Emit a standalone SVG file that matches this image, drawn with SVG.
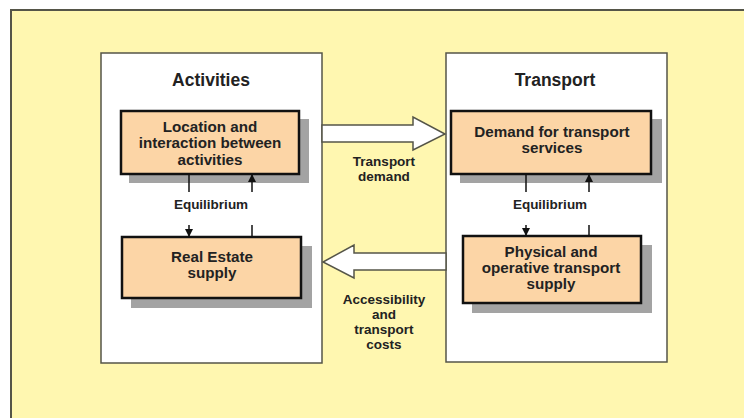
<svg xmlns="http://www.w3.org/2000/svg" width="744" height="418" viewBox="0 0 744 418">
<style>
.panel{fill:#ffffff;stroke:#555548;stroke-width:1.5}
.box{fill:#fcd5a6;stroke:#111;stroke-width:2.5}
.shadow{fill:#a3a3a3}
.t{font-family:"Liberation Sans",Arial,sans-serif;font-weight:bold;fill:#222;text-anchor:middle}
.bt{font-size:15.2px}
.title{font-size:17.5px}
.lbl{font-size:13.5px}
.eq{stroke:#111;stroke-width:1.5;fill:none}
.big{fill:#ffffff;stroke:#555548;stroke-width:1.5}
</style>
<defs>
<marker id="ah" markerWidth="8" markerHeight="8" refX="7" refY="4" orient="auto" markerUnits="userSpaceOnUse">
<path d="M0,0 L8,4 L0,8 z" fill="#111"/>
</marker>
</defs>
<rect width="744" height="418" fill="#ffffff"/>
<rect x="11" y="10" width="745" height="420" fill="#fff7b0" stroke="#555548" stroke-width="2"/>

<g id="activities-panel">
<rect class="panel" x="101" y="53" width="221" height="310"/>
<text class="t title" x="211" y="86">Activities</text>
</g>
<g id="transport-panel">
<rect class="panel" x="446" y="53" width="221" height="309"/>
<text class="t title" x="555" y="86">Transport</text>
</g>

<g id="location">
<rect class="shadow" x="129" y="119" width="180" height="64"/>
<rect class="box" x="121" y="111" width="178" height="63"/>
<text class="t bt" x="210" y="131.5">Location and</text>
<text class="t bt" x="210" y="148">interaction between</text>
<text class="t bt" x="210" y="164.5">activities</text>
</g>
<g id="real-estate">
<rect class="shadow" x="131" y="246" width="181" height="62"/>
<rect class="box" x="122" y="237" width="179" height="61"/>
<text class="t bt" x="212" y="262">Real Estate</text>
<text class="t bt" x="212" y="278">supply</text>
</g>
<g id="demand">
<rect class="shadow" x="460" y="119" width="202" height="64"/>
<rect class="box" x="451" y="111" width="200" height="63"/>
<text class="t bt" x="552" y="137">Demand for transport</text>
<text class="t bt" x="552" y="153">services</text>
</g>
<g id="supply">
<rect class="shadow" x="472" y="245" width="180" height="68"/>
<rect class="box" x="463" y="236" width="178" height="67"/>
<text class="t bt" x="551" y="257">Physical and</text>
<text class="t bt" x="551" y="273">operative transport</text>
<text class="t bt" x="551" y="289">supply</text>
</g>

<g id="connectors">
<path class="big" d="M322,125 L413,125 L413,117 L445,134 L413,150 L413,142 L322,142 Z"/>
<path class="big" d="M446,253 L354,253 L354,245 L323,262 L354,278 L354,270 L446,270 Z"/>
<text class="t lbl" x="384" y="166">Transport</text>
<text class="t lbl" x="384" y="181">demand</text>
<text class="t lbl" x="384" y="304">Accessibility</text>
<text class="t lbl" x="384" y="319">and</text>
<text class="t lbl" x="384" y="334">transport</text>
<text class="t lbl" x="384" y="349">costs</text>

<line class="eq" x1="189" y1="174" x2="189" y2="192"/>
<line class="eq" x1="189" y1="225" x2="189" y2="236" marker-end="url(#ah)"/>
<line class="eq" x1="252" y1="237" x2="252" y2="225"/>
<line class="eq" x1="252" y1="192" x2="252" y2="175" marker-end="url(#ah)"/>
<text class="t lbl" x="211" y="209">Equilibrium</text>

<line class="eq" x1="526" y1="174" x2="526" y2="192"/>
<line class="eq" x1="526" y1="225" x2="526" y2="235" marker-end="url(#ah)"/>
<line class="eq" x1="589" y1="236" x2="589" y2="225"/>
<line class="eq" x1="589" y1="192" x2="589" y2="175" marker-end="url(#ah)"/>
<text class="t lbl" x="550" y="209">Equilibrium</text>
</g>
</svg>
